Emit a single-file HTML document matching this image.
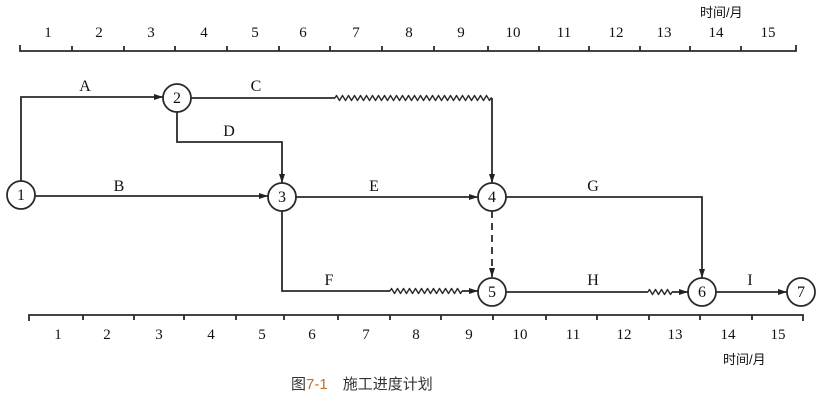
<!DOCTYPE html>
<html><head><meta charset="utf-8"><style>
html,body{margin:0;padding:0;background:#fff;}
svg{display:block;}
text{font-family:"Liberation Serif","Noto Serif CJK SC",serif;fill:#111;}
.cn{font-family:"Liberation Sans","Noto Sans CJK SC",sans-serif;}
</style></head><body>
<svg width="826" height="401" viewBox="0 0 826 401" xmlns="http://www.w3.org/2000/svg">
<defs>
<marker id="ar" markerWidth="10" markerHeight="8" refX="9" refY="4" orient="auto" markerUnits="userSpaceOnUse">
<path d="M0,1 L9,4 L0,7 Z" fill="#222"/></marker>
</defs>
<g stroke="#2a2a2a" stroke-width="1.8" fill="none">
<path d="M20,45 V51 H796 V45"/>
<path d="M72,46V51 M124,46V51 M175,46V51 M227,46V51 M279,46V51 M330,46V51 M382,46V51 M434,46V51 M488,46V51 M539,46V51 M589,46V51 M640,46V51 M690,46V51 M741,46V51"/>
<path d="M29,321 V315 H803 V321"/>
<path d="M83,315V320 M134,315V320 M184,315V320 M236,315V320 M284,315V320 M338,315V320 M390,315V320 M441,315V320 M493,315V320 M546,315V320 M597,315V320 M649,315V320 M700,315V320 M752,315V320"/>
<path d="M21,181 V97 H163" marker-end="url(#ar)"/>
<path d="M191,98 H335"/>
<path d="M492,98 V183" marker-end="url(#ar)"/>
<path d="M177,112 V142 H282 V183" marker-end="url(#ar)"/>
<path d="M35,196 H268" marker-end="url(#ar)"/>
<path d="M296,197 H478" marker-end="url(#ar)"/>
<path d="M506,197 H702 V278" marker-end="url(#ar)"/>
<path d="M492,211 V277" stroke-dasharray="7,5" marker-end="url(#ar)"/>
<path d="M282,211 V291 H390"/>
<path d="M462,291 H478" marker-end="url(#ar)"/>
<path d="M506,292 H648"/>
<path d="M672,292 H688" marker-end="url(#ar)"/>
<path d="M716,292 H787" marker-end="url(#ar)"/>
<circle cx="21" cy="195" r="14"/>
<circle cx="177" cy="98" r="14"/>
<circle cx="282" cy="197" r="14"/>
<circle cx="492" cy="197" r="14"/>
<circle cx="492" cy="292" r="14"/>
<circle cx="702" cy="292" r="14"/>
<circle cx="801" cy="292" r="14"/>
</g>
<g stroke="#2a2a2a" stroke-width="1.4" fill="none" stroke-linejoin="round">
<path d="M335,98 l1.5,-2.5 l3,5 l1.5,-2.5 l1.5,-2.5 l3,5 l1.5,-2.5 l1.5,-2.5 l3,5 l1.5,-2.5 l1.5,-2.5 l3,5 l1.5,-2.5 l1.5,-2.5 l3,5 l1.5,-2.5 l1.5,-2.5 l3,5 l1.5,-2.5 l1.5,-2.5 l3,5 l1.5,-2.5 l1.5,-2.5 l3,5 l1.5,-2.5 l1.5,-2.5 l3,5 l1.5,-2.5 l1.5,-2.5 l3,5 l1.5,-2.5 l1.5,-2.5 l3,5 l1.5,-2.5 l1.5,-2.5 l3,5 l1.5,-2.5 l1.5,-2.5 l3,5 l1.5,-2.5 l1.5,-2.5 l3,5 l1.5,-2.5 l1.5,-2.5 l3,5 l1.5,-2.5 l1.5,-2.5 l3,5 l1.5,-2.5 l1.5,-2.5 l3,5 l1.5,-2.5 l1.5,-2.5 l3,5 l1.5,-2.5 l1.5,-2.5 l3,5 l1.5,-2.5 l1.5,-2.5 l3,5 l1.5,-2.5 l1.5,-2.5 l3,5 l1.5,-2.5 l1.5,-2.5 l3,5 l1.5,-2.5 l1.5,-2.5 l3,5 l1.5,-2.5 l1.5,-2.5 l3,5 l1.5,-2.5 l1.5,-2.5 l3,5 l1.5,-2.5 l1.5,-2.5 l3,5 l1.5,-2.5 L492,98"/>
<path d="M390,291 l1.5,-2.5 l3,5 l1.5,-2.5 l1.5,-2.5 l3,5 l1.5,-2.5 l1.5,-2.5 l3,5 l1.5,-2.5 l1.5,-2.5 l3,5 l1.5,-2.5 l1.5,-2.5 l3,5 l1.5,-2.5 l1.5,-2.5 l3,5 l1.5,-2.5 l1.5,-2.5 l3,5 l1.5,-2.5 l1.5,-2.5 l3,5 l1.5,-2.5 l1.5,-2.5 l3,5 l1.5,-2.5 l1.5,-2.5 l3,5 l1.5,-2.5 l1.5,-2.5 l3,5 l1.5,-2.5 l1.5,-2.5 l3,5 l1.5,-2.5"/>
<path d="M648,292 l1.5,-2.5 l3,5 l1.5,-2.5 l1.5,-2.5 l3,5 l1.5,-2.5 l1.5,-2.5 l3,5 l1.5,-2.5 l1.5,-2.5 l3,5 l1.5,-2.5"/>
</g>
<g font-size="16" text-anchor="middle">
<text x="21" y="200">1</text><text x="177" y="103">2</text><text x="282" y="202">3</text>
<text x="492" y="202">4</text><text x="492" y="297">5</text><text x="702" y="297">6</text><text x="801" y="297">7</text>
</g>
<g font-size="16" text-anchor="middle">
<text x="85" y="91">A</text><text x="256" y="91">C</text><text x="229" y="136">D</text>
<text x="119" y="191">B</text><text x="374" y="191">E</text><text x="593" y="191">G</text>
<text x="329" y="285">F</text><text x="593" y="285">H</text><text x="750" y="285">I</text>
</g>
<g font-size="15" text-anchor="middle">
<text x="48" y="37">1</text><text x="99" y="37">2</text><text x="151" y="37">3</text><text x="204" y="37">4</text><text x="255" y="37">5</text><text x="303" y="37">6</text><text x="356" y="37">7</text><text x="409" y="37">8</text><text x="461" y="37">9</text><text x="513" y="37">10</text><text x="564" y="37">11</text><text x="616" y="37">12</text><text x="664" y="37">13</text><text x="716" y="37">14</text><text x="768" y="37">15</text>
<text x="58" y="339">1</text><text x="107" y="339">2</text><text x="159" y="339">3</text><text x="211" y="339">4</text><text x="262" y="339">5</text><text x="312" y="339">6</text><text x="366" y="339">7</text><text x="416" y="339">8</text><text x="469" y="339">9</text><text x="520" y="339">10</text><text x="573" y="339">11</text><text x="624" y="339">12</text><text x="675" y="339">13</text><text x="728" y="339">14</text><text x="778" y="339">15</text>
</g>
<text class="cn" x="700" y="17" font-size="13">时间/月</text>
<text class="cn" x="723" y="364" font-size="13">时间/月</text>
<text class="cn" x="291" y="389" font-size="15" style="fill:#333">图<tspan style="fill:#c0702a">7-1</tspan>　施工进度计划</text>
</svg>
</body></html>
